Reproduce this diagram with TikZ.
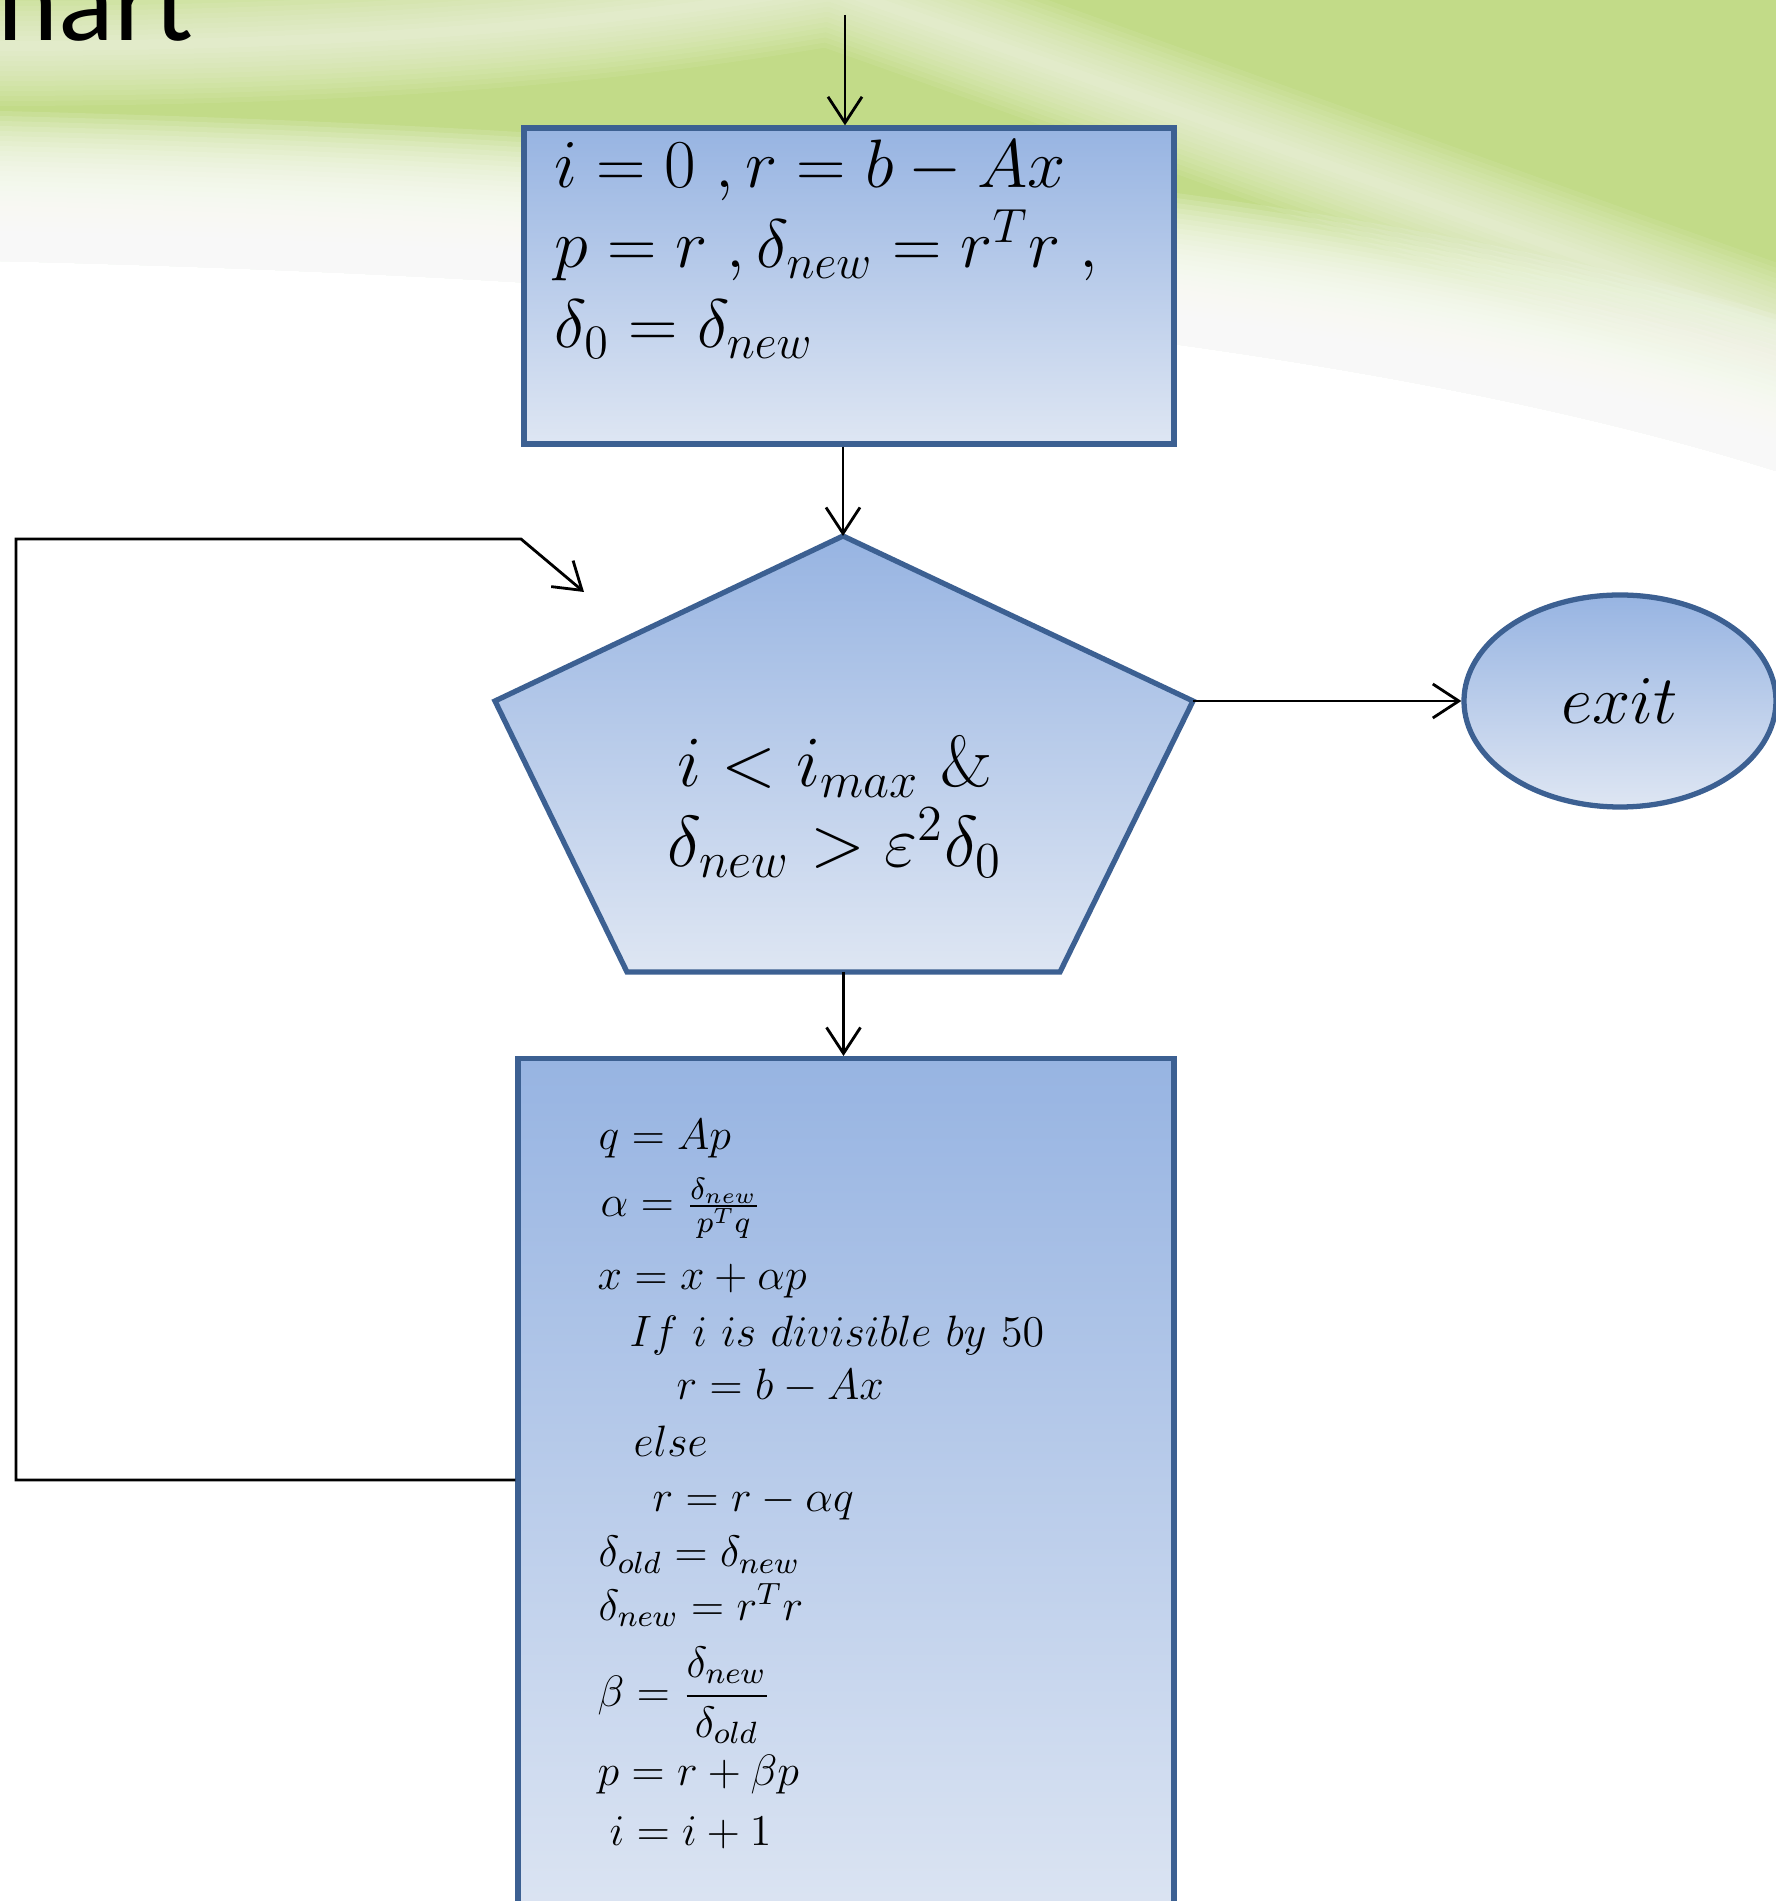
\RequirePackage{fix-cm}
\documentclass[tikz,border=0pt]{standalone}
\usepackage{amsmath}
\usepackage{fontspec}
\newfontfamily\titlefont{Carlito}
\usepackage{tikz}
\usetikzlibrary{
	arrows.meta,
	calc,
	positioning,
	shapes.geometric
}

\definecolor{boxline}{RGB}{60,96,146}
\definecolor{boxtop}{RGB}{151,180,226}
\definecolor{boxbot}{RGB}{222,230,243}
\definecolor{leafgreen}{RGB}{194,219,136}

\tikzset{
	flowbox/.style={draw=boxline, line width=1.5pt, top color=boxtop, bottom color=boxbot},
	flowline/.style={line width=0.8pt, -{Straight Barb[length=2.6mm,width=3.4mm]}},
	bigmath/.style={font=\fontsize{19.5}{22.8}\selectfont},
	smallmath/.style={font=\fontsize{12.5}{15}\selectfont, anchor=base west, inner sep=0pt}
}

\begin{document}
\begin{tikzpicture}
		\useasboundingbox (0,0) rectangle (17.76,19.01);
		\clip (0,0) rectangle (17.76,19.01);
		\fill[white] (0,0) rectangle (17.76,19.01);

		% green wave behind the title
		\fill[leafgreen] (-1,19.5) -- (18.8,19.5) -- (18.8,13.5) -- (17.76,14.3) .. controls (13,15.8) and (6,16.25) .. (0,16.4) -- (-1,16.42) -- cycle;
		\foreach \n in {1,...,30}
			\draw[white, opacity=0.13, line width=\n*1mm] (18.8,13.5) -- (17.76,14.3) .. controls (13,15.8) and (6,16.25) .. (0,16.4) -- (-1,16.42);
		\foreach \n in {1,...,12}
			\draw[white, opacity=0.07, line width=\n*1mm] (-1,18.56) -- (-0.1,18.55) .. controls (4.5,18.55) and (6.8,18.9) .. (8.3,19.15) .. controls (11,18.2) and (14.5,16.9) .. (17.9,15.7) -- (18.8,15.3);

		\node[anchor=base west, inner sep=0pt, font=\titlefont\fontsize{33}{33}\selectfont] (title) at (-0.03,18.60) {hart};

		% start
		\node[flowbox, minimum width=6.5cm, minimum height=3.16cm] (init) at (8.49,16.15) {};
		\node[bigmath, align=left, anchor=base west, inner sep=0pt] (inittxt) at (5.54,15.53)
			{$i = 0\;,r = b - Ax$\\ $p = r\;,\delta_{new} = r^T r\;,$\\ $\delta_0 = \delta_{new}$};

		% condition
		\coordinate (ptop) at (8.43,13.65);
		\coordinate (pright) at (11.93,12.00);
		\coordinate (pbr) at (10.60,9.29);
		\coordinate (pbl) at (6.27,9.29);
		\coordinate (pleft) at (4.95,12.00);
		\coordinate (pbot) at ($(pbl)!0.5!(pbr)$);
		\draw[flowbox] (ptop) -- (pright) -- (pbr) -- (pbl) -- (pleft) -- cycle;
		\node[font=\fontsize{20.5}{22.8}\selectfont, align=center, anchor=base, inner sep=0pt] (cond) at (8.35,10.34)
			{$i < i_{max}$ \&\\ $\delta_{new} > \varepsilon^2\delta_0$};

		\node[flowbox, ellipse, minimum width=3.12cm, minimum height=2.12cm, bigmath] (exit) at (16.20,12.00) {$exit$};

		% loop body
		\node[flowbox, minimum width=6.56cm, minimum height=8.9cm, anchor=north] (upd) at (8.46,8.45) {};
		\foreach \xx/\yy/\eq [count=\k] in {
			5.98/7.51/{q = Ap},
			6.00/6.84/{\alpha = \frac{\delta_{new}}{p^T q}},
			5.97/6.11/{x = x + \alpha p},
			6.29/5.54/{If\ i\ is\ divisible\ by\ 50},
			6.76/5.01/{r = b - Ax},
			6.33/4.44/{else},
			6.52/3.89/{r = r - \alpha q},
			5.98/3.34/{\delta_{old} = \delta_{new}},
			5.98/2.81/{\delta_{new} = r^T r},
			5.97/1.94/{\beta = \dfrac{\delta_{new}}{\delta_{old}}},
			5.97/1.16/{p = r + \beta p},
			6.09/0.56/{i = i + 1}}
			\node[smallmath] (line\k) at (\xx,\yy) {$\eq$};

		% connectors
		\coordinate (start) at (8.45,18.86);
		\draw[flowline] (start) -- (start |- init.north);
		\draw[flowline] (ptop |- init.south) -- (ptop);
		\draw[flowline] (pright) -- (exit.west);
		\draw[flowline] (pbot) -- (pbot |- upd.north);

		\coordinate (lowleft) at (0.16,4.21);
		\coordinate (upleft) at (0.16,13.62);
		\coordinate (upright) at (5.21,13.62);
		\coordinate (loopend) at (5.84,13.09);
		\draw[flowline] (upd.west |- lowleft) -- (lowleft) -- (upleft) -- (upright) -- (loopend);
	\end{tikzpicture}
\end{document}
